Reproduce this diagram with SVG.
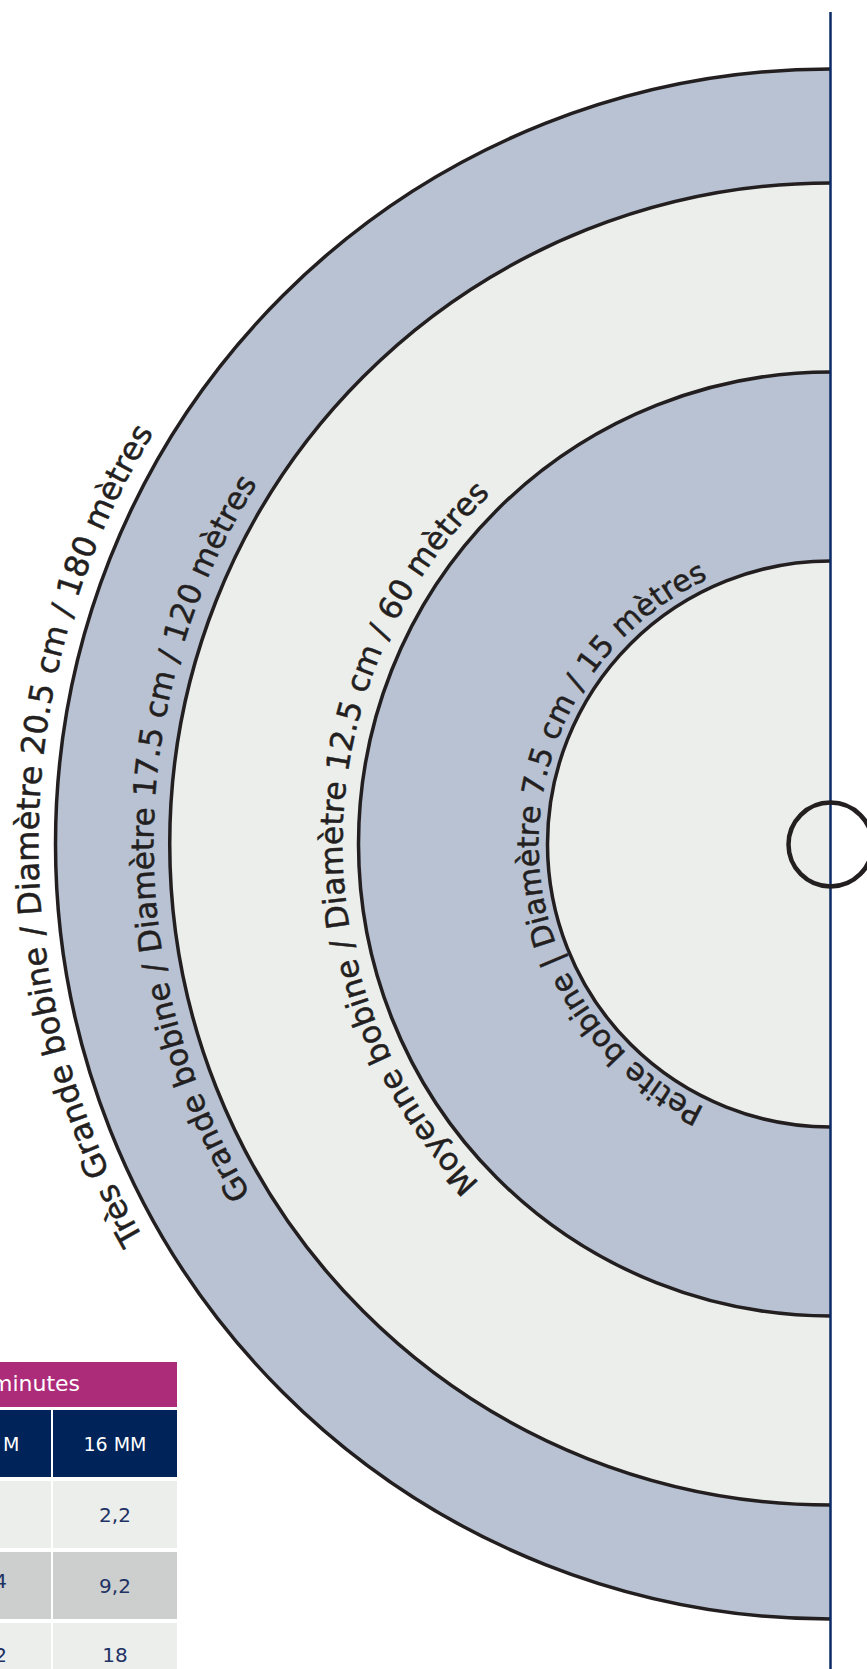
<svg xmlns="http://www.w3.org/2000/svg" width="867" height="1669" viewBox="0 0 867 1669">
<style>
.ring{fill:none;stroke:#231f20;stroke-width:3.5}
.blue{fill:#b8c2d2}
.light{fill:#eceeec}
.lbl{font-family:"DejaVu Sans",sans-serif;fill:#231f20;stroke:#231f20;stroke-width:0.5}
.th{font-family:"DejaVu Sans",sans-serif;font-size:19px;fill:#ffffff}
.td{font-family:"DejaVu Sans",sans-serif;font-size:20px;fill:#1e3264}
</style>
<defs>
<path id="p1" d="M830.5,1636 A792,792 0 0 1 830.5,52"/>
<path id="p2" d="M830.5,1521 A677,677 0 0 1 830.5,167"/>
<path id="p3" d="M830.5,1332 A488,488 0 0 1 830.5,356"/>
<path id="p4" d="M830.5,1136 A292,292 0 0 1 830.5,552"/>
</defs>
<rect width="867" height="1669" fill="#ffffff"/>
<g id="reel-tres-grande">
<path class="blue" d="M830.5,69 A775,775 0 0 0 830.5,1619 Z"/>
<path class="ring" d="M830.5,69 A775,775 0 0 0 830.5,1619"/>
<text class="lbl" font-size="32"><textPath href="#p1" startOffset="50.4%" text-anchor="middle">Très Grande bobine / Diamètre 20.5 cm / 180 mètres</textPath></text>
</g>
<g id="reel-grande">
<path class="light" d="M830.5,183 A661,661 0 0 0 830.5,1505 Z"/>
<path class="ring" d="M830.5,183 A661,661 0 0 0 830.5,1505"/>
<text class="lbl" font-size="31"><textPath href="#p2" startOffset="50.3%" text-anchor="middle">Grande bobine / Diamètre 17.5 cm / 120 mètres</textPath></text>
</g>
<g id="reel-moyenne">
<path class="blue" d="M830.5,372 A472,472 0 0 0 830.5,1316 Z"/>
<path class="ring" d="M830.5,372 A472,472 0 0 0 830.5,1316"/>
<text class="lbl" font-size="31.4"><textPath href="#p3" startOffset="50.5%" text-anchor="middle">Moyenne bobine / Diamètre 12.5 cm / 60 mètres</textPath></text>
</g>
<g id="reel-petite">
<path class="light" d="M830.5,561 A283,283 0 0 0 830.5,1127 Z"/>
<path class="ring" d="M830.5,561 A283,283 0 0 0 830.5,1127"/>
<text class="lbl" font-size="30"><textPath href="#p4" startOffset="50.2%" text-anchor="middle">Petite bobine | Diamètre 7.5 cm / 15 mètres</textPath></text>
</g>
<g id="axis">
<line x1="830.5" y1="12" x2="830.5" y2="1669" stroke="#0b2a66" stroke-width="2.5"/>
</g>
<g id="hub">
<circle cx="830.5" cy="844.5" r="42" fill="none" stroke="#231f20" stroke-width="4.5"/>
</g>
<g id="table">
<rect x="0" y="1362" width="177" height="45" fill="#ad2c79"/>
<text class="th" x="-9" y="1391" style="font-size:22px">minutes</text>
<rect x="0" y="1410" width="51" height="67" fill="#00235a"/>
<rect x="53" y="1410" width="124" height="67" fill="#00235a"/>
<text class="th" x="19.5" y="1451" text-anchor="end">M</text>
<text class="th" x="115" y="1451" text-anchor="middle">16 MM</text>
<rect x="0" y="1481" width="51" height="67" fill="#eceeec"/>
<rect x="53" y="1481" width="124" height="67" fill="#eceeec"/>
<text class="td" x="115" y="1522" text-anchor="middle">2,2</text>
<rect x="0" y="1552" width="51" height="67" fill="#cdcfcf"/>
<rect x="53" y="1552" width="124" height="67" fill="#cdcfcf"/>
<text class="td" x="7" y="1588" text-anchor="end">4</text>
<text class="td" x="115" y="1593" text-anchor="middle">9,2</text>
<rect x="0" y="1623" width="51" height="46" fill="#eceeec"/>
<rect x="53" y="1623" width="124" height="46" fill="#eceeec"/>
<text class="td" x="7" y="1662" text-anchor="end">2</text>
<text class="td" x="115" y="1662" text-anchor="middle">18</text>
</g>
</svg>
